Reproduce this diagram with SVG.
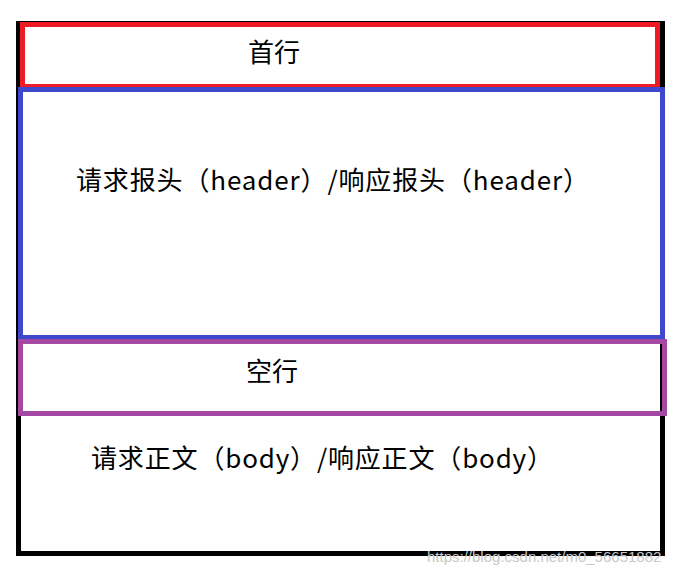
<svg xmlns="http://www.w3.org/2000/svg" width="684" height="576" viewBox="0 0 684 576">
<style>
.box{fill:none;stroke-width:5}
.t{font-family:"Noto Sans CJK SC","Noto Sans",sans-serif;font-size:26px;fill:#000}
.wm{font-family:"Liberation Sans",Arial,sans-serif;font-size:15px;fill:#c8c8c8}
</style>
<rect width="684" height="576" fill="#fff"/>
<g id="outer"><rect class="box" x="18.5" y="23.5" width="644" height="530" stroke="#000"/></g>
<g id="first-line"><rect class="box" x="22.5" y="24.5" width="635" height="62" stroke="#ED1C24"/>
<text class="t" x="248" y="62">首行</text></g>
<g id="header"><rect class="box" x="20.5" y="89.5" width="642" height="248" stroke="#3F48CC"/>
<text class="t" x="76" y="190" textLength="513">请求报头（header）/响应报头（header）</text></g>
<g id="blank-line"><rect class="box" x="20.5" y="341.5" width="644" height="72" stroke="#A349A4"/>
<text class="t" x="246" y="381">空行</text></g>
<g id="body"><text class="t" x="91" y="468" textLength="462">请求正文（body）/响应正文（body）</text></g>
<g id="connectors"></g>
<text class="wm" x="427" y="562">https://blog.csdn.net/m0_56651882</text>
</svg>
